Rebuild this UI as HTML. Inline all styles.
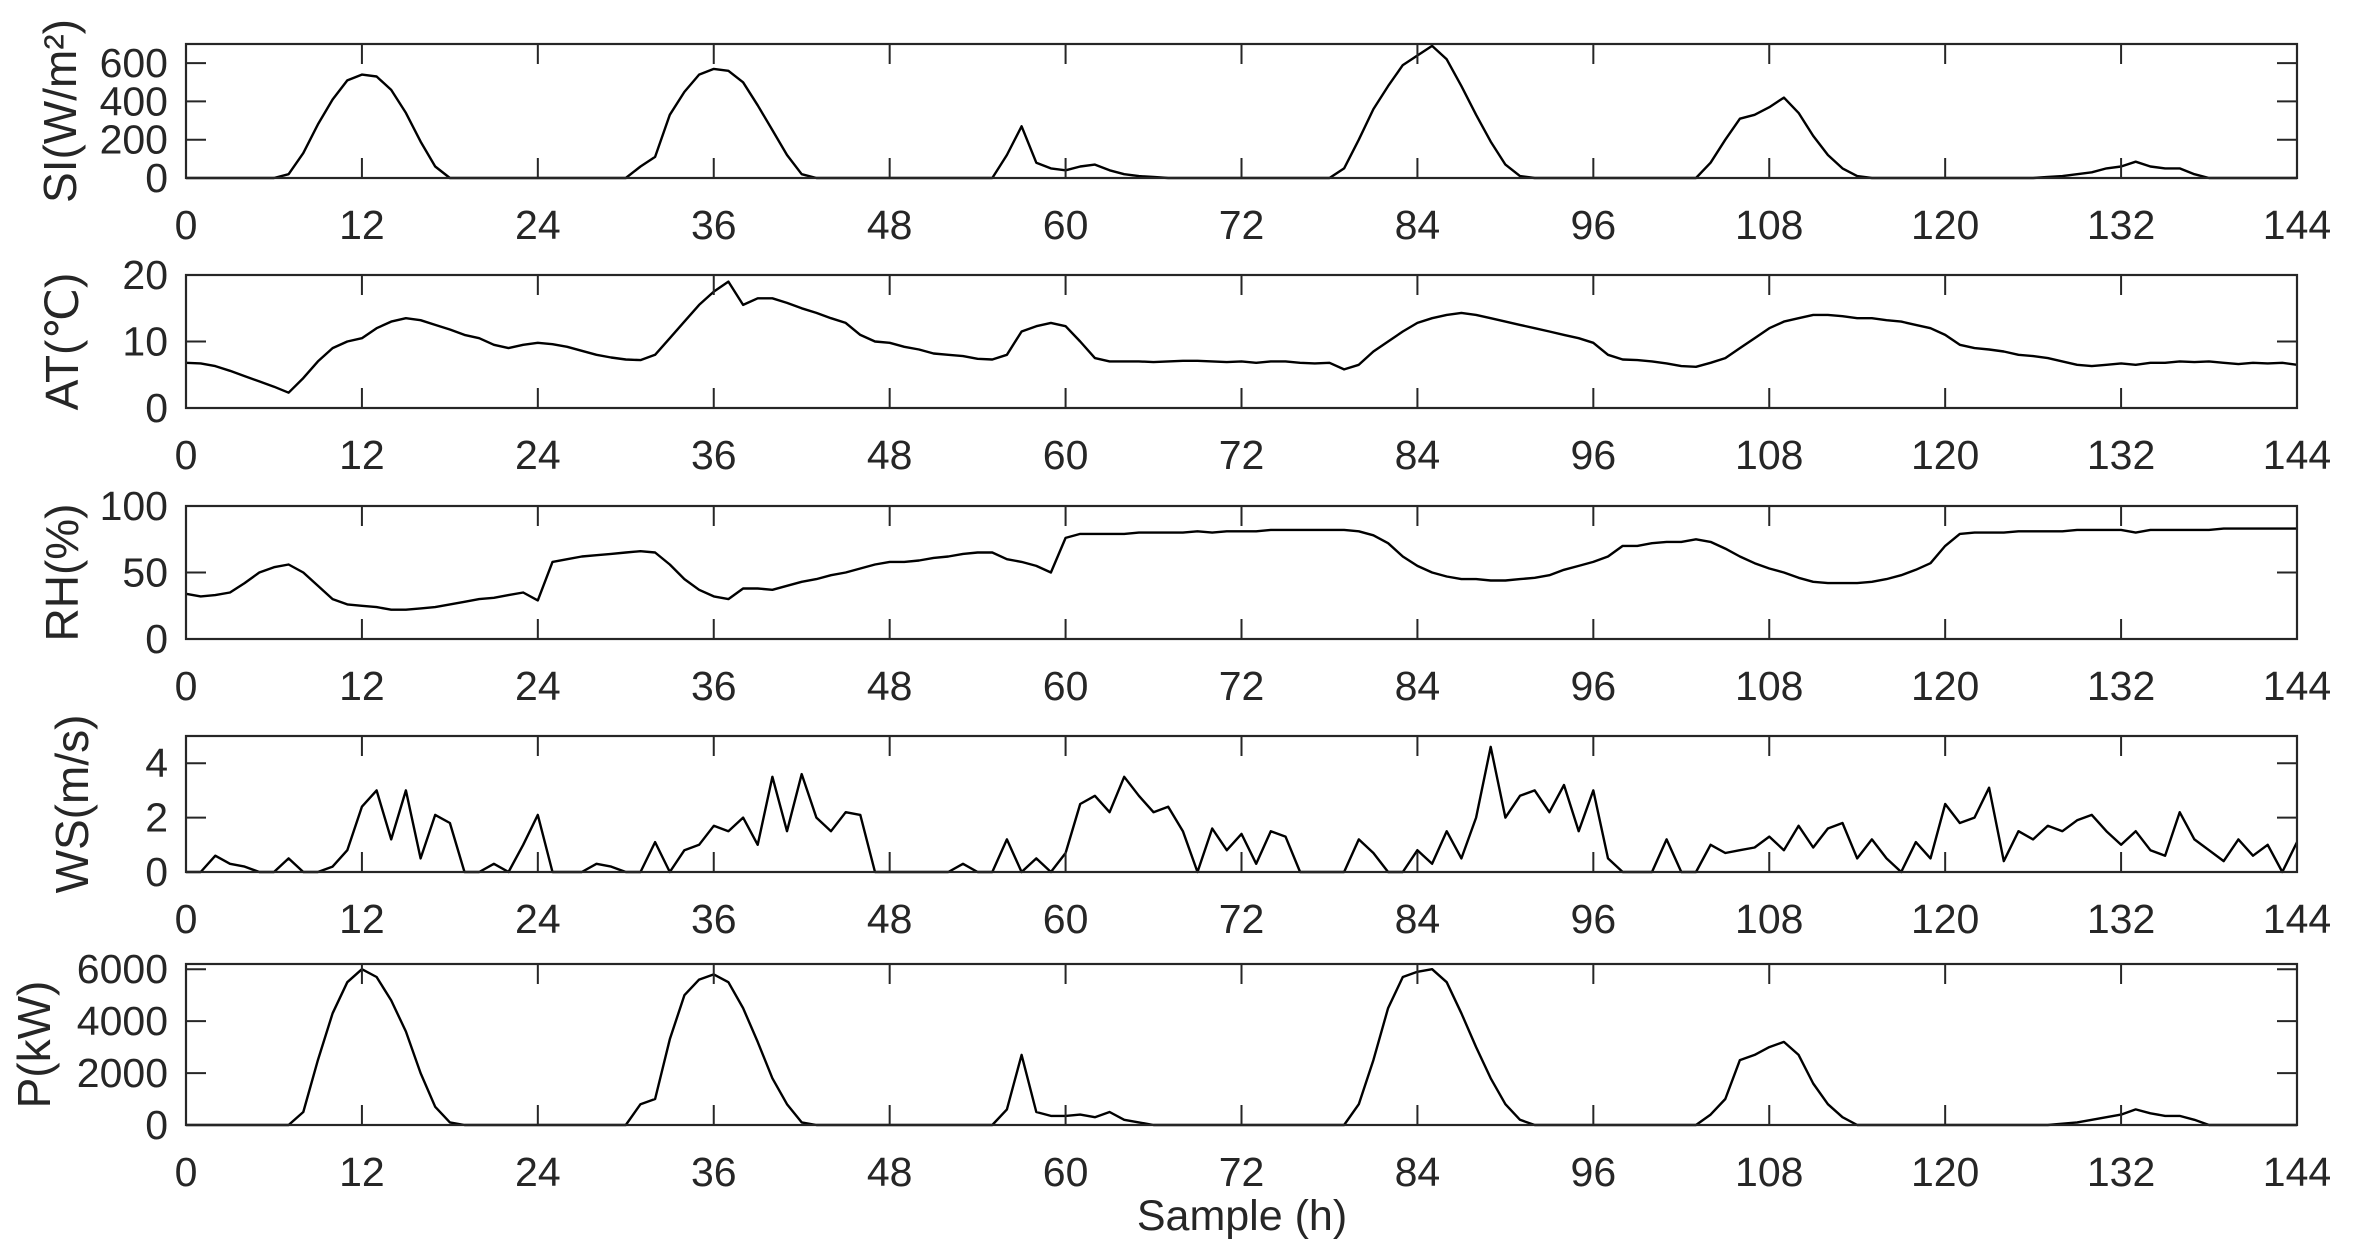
<!DOCTYPE html>
<html><head><meta charset="utf-8"><title>Weather and power time series</title>
<style>
html,body{margin:0;padding:0;background:#fff;}
svg{display:block;}
text{font-family:"Liberation Sans",Arial,sans-serif;fill:#262626;}
</style></head>
<body>
<svg id="chart" width="2355" height="1259" viewBox="0 0 2355 1259" xmlns="http://www.w3.org/2000/svg"></svg>
<script>
const xTicks = [0,12,24,36,48,60,72,84,96,108,120,132,144];
const siTicks = [0,200,400,600];
const atTicks = [0,10,20];
const rhTicks = [0,50,100];
const wsTicks = [0,2,4];
const pTicks = [0,2000,4000,6000];

const siValues = [0,0,0,0,0,0,0,20,130,280,410,510,540,530,460,340,190,60,0,0,0,0,0,0,0,0,0,0,0,0,0,60,110,330,450,540,570,560,500,380,250,120,20,0,0,0,0,0,0,0,0,0,0,0,0,0,120,270,80,50,40,60,70,40,20,10,5,0,0,0,0,0,0,0,0,0,0,0,0,50,200,360,480,590,640,690,620,480,330,190,70,10,0,0,0,0,0,0,0,0,0,0,0,0,80,200,310,330,370,420,340,220,120,50,10,0,0,0,0,0,0,0,0,0,0,0,0,5,10,20,30,50,60,85,60,50,50,20,0,0,0,0,0,0,0];
const atValues = [6.8,6.7,6.3,5.6,4.8,4,3.2,2.3,4.5,7,9,10,10.5,12,13,13.5,13.2,12.5,11.8,11,10.5,9.5,9,9.5,9.8,9.6,9.2,8.6,8,7.6,7.3,7.2,8,10.5,13,15.5,17.5,19,15.5,16.5,16.5,15.8,15,14.3,13.5,12.8,11,10,9.8,9.2,8.8,8.2,8,7.8,7.4,7.3,8,11.5,12.3,12.8,12.3,10,7.5,7,7,7,6.9,7,7.1,7.1,7,6.9,7,6.8,7,7,6.8,6.7,6.8,5.8,6.5,8.5,10,11.5,12.8,13.5,14,14.3,14,13.5,13,12.5,12,11.5,11,10.5,9.8,8,7.3,7.2,7,6.7,6.3,6.2,6.8,7.5,9,10.5,12,13,13.5,14,14,13.8,13.5,13.5,13.2,13,12.5,12,11,9.5,9,8.8,8.5,8,7.8,7.5,7,6.5,6.3,6.5,6.7,6.5,6.8,6.8,7,6.9,7,6.8,6.6,6.8,6.7,6.8,6.5];
const rhValues = [34,32,33,35,42,50,54,56,50,40,30,26,25,24,22,22,23,24,26,28,30,31,33,35,29,58,60,62,63,64,65,66,65,56,45,37,32,30,38,38,37,40,43,45,48,50,53,56,58,58,59,61,62,64,65,65,60,58,55,50,76,79,79,79,79,80,80,80,80,81,80,81,81,81,82,82,82,82,82,82,81,78,72,62,55,50,47,45,45,44,44,45,46,48,52,55,58,62,70,70,72,73,73,75,73,68,62,57,53,50,46,43,42,42,42,43,45,48,52,57,70,79,80,80,80,81,81,81,81,82,82,82,82,80,82,82,82,82,82,83,83,83,83,83,83];
const wsValues = [0,0,0.6,0.3,0.2,0,0,0.5,0,0,0.2,0.8,2.4,3,1.2,3,0.5,2.1,1.8,0,0,0.3,0,1,2.1,0,0,0,0.3,0.2,0,0,1.1,0,0.8,1,1.7,1.5,2,1,3.5,1.5,3.6,2,1.5,2.2,2.1,0,0,0,0,0,0,0.3,0,0,1.2,0,0.5,0,0.7,2.5,2.8,2.2,3.5,2.8,2.2,2.4,1.5,0,1.6,0.8,1.4,0.3,1.5,1.3,0,0,0,0,1.2,0.7,0,0,0.8,0.3,1.5,0.5,2,4.6,2,2.8,3,2.2,3.2,1.5,3,0.5,0,0,0,1.2,0,0,1,0.7,0.8,0.9,1.3,0.8,1.7,0.9,1.6,1.8,0.5,1.2,0.5,0,1.1,0.5,2.5,1.8,2,3.1,0.4,1.5,1.2,1.7,1.5,1.9,2.1,1.5,1,1.5,0.8,0.6,2.2,1.2,0.8,0.4,1.2,0.6,1,0,1.1];
const pValues = [0,0,0,0,0,0,0,0,500,2500,4300,5500,6000,5700,4800,3600,2000,700,100,0,0,0,0,0,0,0,0,0,0,0,0,800,1000,3300,5000,5600,5800,5500,4500,3200,1800,800,100,0,0,0,0,0,0,0,0,0,0,0,0,0,600,2700,500,350,350,400,300,500,200,100,0,0,0,0,0,0,0,0,0,0,0,0,0,0,800,2500,4500,5700,5900,6000,5500,4300,3000,1800,800,200,0,0,0,0,0,0,0,0,0,0,0,0,400,1000,2500,2700,3000,3200,2700,1600,800,300,0,0,0,0,0,0,0,0,0,0,0,0,0,0,50,100,200,300,400,600,450,350,350,200,0,0,0,0,0,0,0];

const NS = "http://www.w3.org/2000/svg";
const svg = document.getElementById('chart');
const X0 = 186, X1 = 2297, XMAX = 144;
function xScale(v){ return X0 + (v/XMAX)*(X1-X0); }
function mk(tag, attrs){ const e=document.createElementNS(NS,tag); for(const k in attrs) e.setAttribute(k,attrs[k]); return e; }

const panels = [
  {key:'si', label:'SI(W/m²)', top:44, bottom:178, ymax:700, ticks:siTicks, vals:siValues, lx:60},
  {key:'at', label:'AT(℃)', top:275, bottom:408, ymax:20, ticks:atTicks, vals:atValues, lx:62},
  {key:'rh', label:'RH(%)', top:506, bottom:639, ymax:100, ticks:rhTicks, vals:rhValues, lx:62},
  {key:'ws', label:'WS(m/s)', top:736, bottom:872, ymax:5, ticks:wsTicks, vals:wsValues, lx:72},
  {key:'p', label:'P(kW)', top:964, bottom:1125, ymax:6200, ticks:pTicks, vals:pValues, lx:34}
];

panels.forEach(p=>{
  const g = mk('g',{});
  
  
  svg.appendChild(g);
  const yScale = v => p.bottom - (v/p.ymax)*(p.bottom-p.top);
  let d='';
  p.vals.forEach((v,i)=>{ d += (i?'L':'M') + xScale(i).toFixed(1) + ',' + yScale(v).toFixed(1); });
  const line = mk('path',{d:d, fill:'none', stroke:'#000', 'stroke-width':2.4, 'stroke-linejoin':'round'});
  
  
  g.appendChild(line);
  const box = mk('rect',{x:X0, y:p.top, width:X1-X0, height:p.bottom-p.top, fill:'none', stroke:'#262626', 'stroke-width':2.2});
  
  
  g.appendChild(box);
  xTicks.forEach(t=>{
    const x = xScale(t);
    if(t>0 && t<144){
      const tk1 = mk('line',{x1:x,x2:x,y1:p.bottom,y2:p.bottom-20,stroke:'#262626','stroke-width':2});
      
      
      g.appendChild(tk1);
      const tk2 = mk('line',{x1:x,x2:x,y1:p.top,y2:p.top+20,stroke:'#262626','stroke-width':2});
      
      
      g.appendChild(tk2);
    }
    const lab = mk('text',{x:x, y:p.bottom+61, 'font-size':41, 'text-anchor':'middle'});
    lab.textContent = t;
    
    
    g.appendChild(lab);
  });
  p.ticks.forEach(t=>{
    const y = yScale(t);
    if(t>0 && t<p.ymax){
      const tk1 = mk('line',{x1:X0,x2:X0+20,y1:y,y2:y,stroke:'#262626','stroke-width':2});
      
      
      g.appendChild(tk1);
      const tk2 = mk('line',{x1:X1,x2:X1-20,y1:y,y2:y,stroke:'#262626','stroke-width':2});
      
      
      g.appendChild(tk2);
    }
    const lab = mk('text',{x:168, y:y+14, 'font-size':41, 'text-anchor':'end'});
    lab.textContent = t;
    
    
    g.appendChild(lab);
  });
  const cy = (p.top+p.bottom)/2;
  const yl = mk('text',{x:p.lx, y:cy, 'font-size':46, 'text-anchor':'middle', 'dominant-baseline':'central', transform:'rotate(-90 '+p.lx+' '+cy+')'});
  yl.textContent = p.label;
  
  
  g.appendChild(yl);
});

const xt = mk('text',{x:1242, y:1230, 'font-size':43, 'text-anchor':'middle'});
xt.textContent = 'Sample (h)';


svg.appendChild(xt);
</script>
</body></html>
